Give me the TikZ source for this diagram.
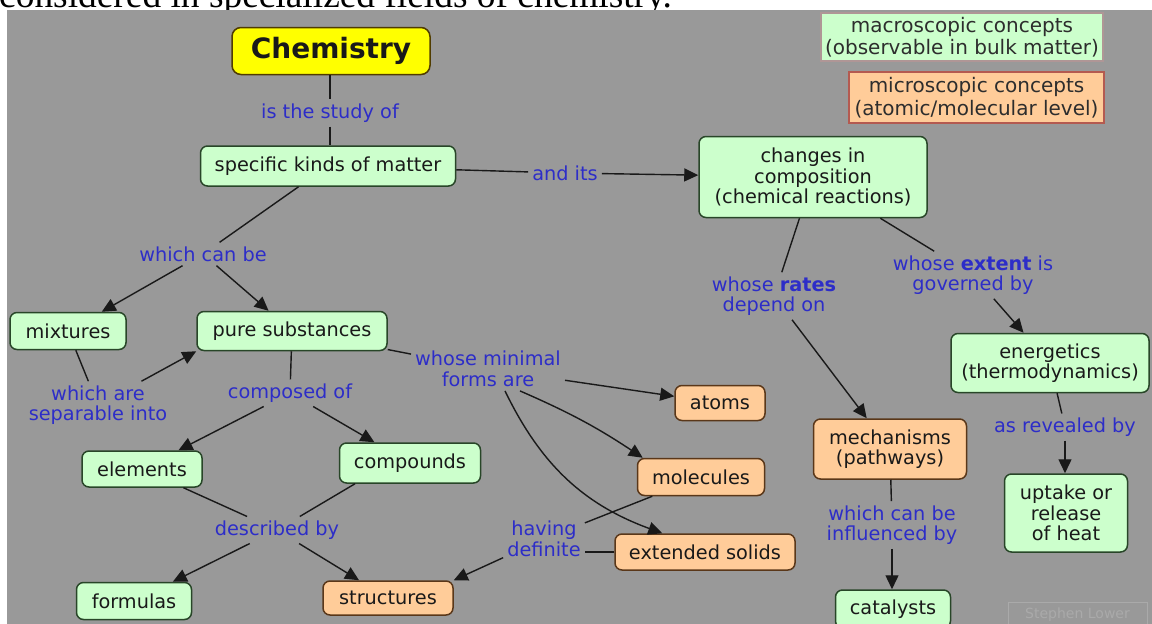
\documentclass[tikz,border=0pt]{standalone}
\usepackage{fontspec}
\setmainfont{DejaVu Sans}
\newfontfamily\serifx{Liberation Serif}
\usetikzlibrary{arrows.meta,calc}
\definecolor{bg}{RGB}{153,153,153}
\definecolor{gfill}{RGB}{204,255,204}
\definecolor{ofill}{RGB}{255,204,153}
\definecolor{yfill}{RGB}{255,255,0}
\definecolor{gline}{RGB}{40,70,40}
\definecolor{oline}{RGB}{90,55,25}
\definecolor{yline}{RGB}{80,60,0}
\definecolor{lblue}{RGB}{45,45,200}
\definecolor{ink}{RGB}{25,25,25}
\definecolor{legg}{RGB}{175,150,150}
\definecolor{lego}{RGB}{180,90,80}
\definecolor{legtext}{RGB}{45,45,45}
\definecolor{wmcol}{RGB}{170,170,170}
\begin{document}
\begin{tikzpicture}[x=1pt,y=-1pt,
  sz/.style 2 args={minimum width=#1pt, minimum height=#2pt},
  box/.style={rounded corners=7pt, line width=1.5pt, inner sep=0pt, align=center, text=ink, font=\fontsize{19.3}{20.5}\selectfont},
  gbox/.style={box, draw=gline, fill=gfill},
  obox/.style={box, draw=oline, fill=ofill},
  legbox/.style={box, rounded corners=0pt, line width=1.3pt, text=legtext, font=\fontsize{20}{22.5}\selectfont},
  lab/.style={text=lblue, align=center, inner sep=4pt, font=\fontsize{19.3}{20.5}\selectfont},
  con/.style={line width=1.4pt, draw=ink},
  arr/.style={con, -{Triangle[length=14pt,width=13pt]}},
]
\useasboundingbox (0,0) rectangle (1152,624);
\fill[white] (0,0) rectangle (1152,624);
\begin{scope}
\clip (0,0) rectangle (1152,10);
\node[anchor=base west, inner sep=0pt, font=\serifx\fontsize{37.4}{37.4}\selectfont] (toptext) at (-1,7) {considered in specialized fields of chemistry.};
\end{scope}
\fill[bg] (7,10) rectangle (1152,624);
\begin{scope}
\clip (7,10) rectangle (1152,624);
% legend
\node[legbox, sz={282}{48}, fill=gfill, draw=legg] (leg1) at (962,37) {macroscopic concepts\\(observable in bulk matter)};
\node[legbox, sz={255}{51}, fill=ofill, draw=lego] (leg2) at (976.5,97.5) {microscopic concepts\\(atomic/molecular level)};
% watermark
\node[draw=wmcol, line width=1pt, text=wmcol, inner sep=0pt, sz={139}{26}, font=\fontsize{14}{14}\selectfont] (wm) at (1077.5,615) {Stephen Lower};
% concept nodes
\node[box, sz={198}{47}, fill=yfill, draw=yline, rounded corners=9pt, font=\bfseries\fontsize{28}{30}\selectfont] (chem) at (331,51) {Chemistry};
\node[gbox, sz={255}{40}] (spec) at (328,166) {specific kinds of matter};
\node[gbox, sz={228}{81}] (chg) at (813,177) {changes in\\composition\\(chemical reactions)};
\node[gbox, sz={116}{37}] (mix) at (68,331) {mixtures};
\node[gbox, sz={190}{39}] (pure) at (292,331) {pure substances};
\node[gbox, sz={120}{36}] (elem) at (142,469) {elements};
\node[gbox, sz={141}{40}] (comp) at (410,463) {compounds};
\node[gbox, sz={115}{37}] (form) at (134,601) {formulas};
\node[obox, sz={130}{34}] (struc) at (388,598) {structures};
\node[obox, sz={90}{35}] (atoms) at (720,403) {atoms};
\node[obox, sz={127}{37}] (mol) at (701,477) {molecules};
\node[obox, sz={180}{36}] (ext) at (705,552) {extended solids};
\node[obox, sz={153}{60}] (mech) at (890,449) {mechanisms\\(pathways)};
\node[gbox, sz={198}{59}] (ener) at (1050,363) {energetics\\(thermodynamics)};
\node[gbox, sz={123}{78}] (upt) at (1066,513) {uptake or\\release\\of heat};
\node[gbox, sz={115}{38}] (cat) at (893,609) {catalysts};
% link labels
\node[lab] (l1) at (330,113) {is the study of};
\node[lab] (l2) at (565,173) {and its};
\node[lab] (l3) at (203,254) {which can be};
\node[lab] (l4) at (98,405) {which are\\separable into};
\node[lab] (l5) at (290,393) {composed of};
\node[lab] (l6) at (488,369) {whose minimal\\forms are};
\node[lab] (l7) at (277,530) {described by};
\node[lab] (l8) at (544,539) {having\\definite};
\node[lab] (l9) at (774,296) {whose \textbf{rates}\\depend on};
\node[lab] (l10) at (973,275) {whose \textbf{extent} is\\governed by};
\node[lab] (l11) at (1065,427) {as revealed by};
\node[lab] (l12) at (892,525) {which can be\\influenced by};
% connectors
\draw[con] (chem.south -| l1) -- (l1.north);
\draw[con] (l1.south) -- (l1.south |- spec.north);
\draw[con] (spec) -- (l2);
\draw[arr] (l2) -- (chg);
\draw[con] (chg) -- (l9);
\draw[arr] (l9) -- (mech);
\draw[con] (chg) -- (l10);
\draw[arr] (l10) -- (ener);
\draw[con] (ener) -- (l11);
\draw[arr] (l11.south) -- (l11.south |- upt.north);
\draw[con] (mech) -- (l12);
\draw[arr] (l12.south) -- (l12.south |- cat.north);
\draw[con] (spec) -- (l3);
\draw[arr] (l3) -- (mix);
\draw[arr] (l3) -- (pure);
\draw[con] (mix) -- (l4);
\draw[arr] (l4) -- (pure.south west);
\draw[con] (pure) -- (l5);
\draw[arr] (l5) -- (elem);
\draw[arr] (l5) -- (comp);
\draw[con] (pure) -- (l6);
\draw[arr] (l6) -- (atoms);
\coordinate (s6a) at ($(l6.south)+(32,0)$);
\coordinate (s6b) at ($(l6.south)+(17,0)$);
\coordinate (tmol) at ($(mol.north west)+(6,0)$);
\coordinate (text) at ($(ext.north west)+(48,0)$);
\draw[arr] (s6a) to[bend left=5] (tmol);
\draw[arr] (s6b) to[bend right=22] (text);
\draw[con] (elem) -- (l7);
\draw[con] ($(comp.south)+(-55,0)$) -- (l7);
\draw[arr] (l7) -- (form);
\draw[arr] (l7) -- (struc);
\draw[con] (mol) -- (l8);
\draw[con] (ext.west) -- (ext.west -| l8.east);
\draw[arr] (l8) -- (struc.north east);
\end{scope}
\end{tikzpicture}
\end{document}
